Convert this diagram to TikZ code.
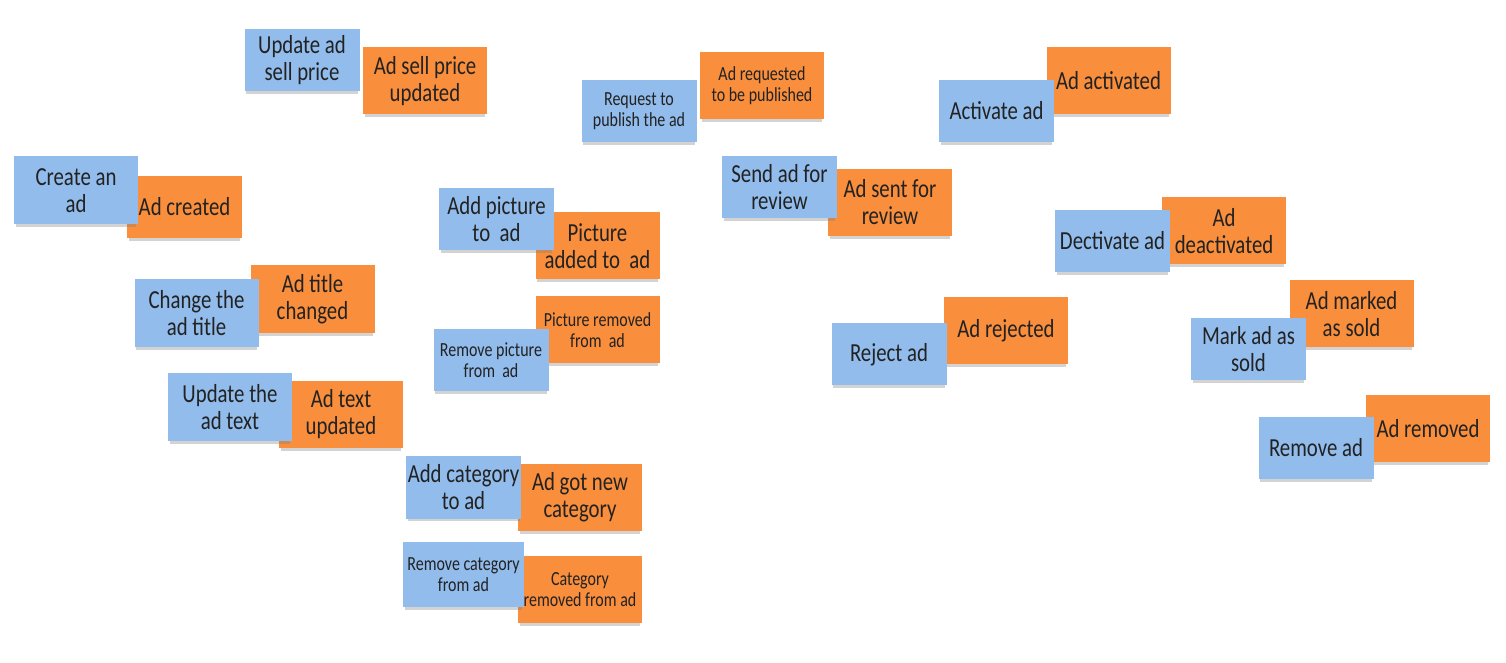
\documentclass[tikz,border=0pt]{standalone}
\usepackage{fontspec}
\setmainfont[FakeStretch=0.8]{Carlito}
\usetikzlibrary{shadows,positioning}

\definecolor{cmdblue}{HTML}{92BCEC}
\definecolor{evtorange}{HTML}{F98E3C}
\definecolor{inkgray}{HTML}{222222}

\tikzset{
    note/.style={rectangle, inner sep=1pt, align=center, text=inkgray,
        font=\fontsize{13}{13.5}\selectfont,
        drop shadow={shadow xshift=0pt, shadow yshift=-2pt, shadow scale=0.97, opacity=0.35}},
    cmd/.style={note, fill=cmdblue, minimum width=57.5pt, minimum height=31pt},
    evt/.style={note, fill=evtorange, minimum width=62pt, minimum height=33.5pt},
    bignote/.style={minimum width=62pt, minimum height=34pt},
    smalltext/.style={font=\fontsize{10}{10.5}\selectfont}
}

\begin{document}
\begin{tikzpicture}[x=0.5pt, y=-0.5pt]
    \useasboundingbox (0,0) rectangle (1506,663);

    \node (sellpriceupd) [evt] at (425,81) {Ad sell price\\ updated};
    \node (sellprice) [cmd] at (302,60) {Update ad\\ sell price};

    \node (created) [evt, minimum width=57.5pt, minimum height=31pt] at (184.5,207) {Ad created};
    \node (create) [cmd, bignote] at (76,190.5) {Create an\\ ad};

    \node (titlechg) [evt, bignote] at (312.5,299) {Ad title\\ changed};
    \node (title) [cmd, bignote] at (196.5,313) {Change the\\ ad title};

    \node (textupd) [evt] at (341,414.5) {Ad text\\ updated};
    \node (text) [cmd, bignote] at (230,407) {Update the\\ ad text};

    \node (picadded) [evt] at (597.5,246) {Picture\\ added to\ \ ad};
    \node (addpic) [cmd] at (496.5,219) {Add picture\\ to\ \ ad};

    \node (picrm) [evt, smalltext] at (597.5,330) {Picture removed\\ from\ \ ad};
    \node (rmpic) [cmd, smalltext] at (491,360.5) {Remove picture\\ from\ \ ad};

    \node (newcat) [evt] at (580,497.5) {Ad got new\\ category};
    \node (addcat) [cmd] at (463.5,487.5) {Add category\\ to ad};

    \node (catrm) [evt, smalltext] at (580,589.5) {Category\\ removed from ad};
    \node (rmcat) [cmd, smalltext, minimum width=60.5pt, minimum height=32.5pt] at (463.5,574.5) {Remove category\\ from ad};

    \node (requested) [evt, smalltext] at (762,85.5) {Ad requested\\ to be published};
    \node (request) [cmd, smalltext] at (639,111) {Request to\\ publish the ad};

    \node (sent) [evt] at (890,202.5) {Ad sent for\\ review};
    \node (send) [cmd] at (779.5,187.5) {Send ad for\\ review};

    \node (rejected) [evt] at (1006,331) {Ad rejected};
    \node (reject) [cmd] at (889,354.5) {Reject ad};

    \node (activated) [evt] at (1108.5,81) {Ad activated};
    \node (activate) [cmd] at (996.5,111) {Activate ad};

    \node (deactivated) [evt] at (1224,231) {Ad\\ deactivated};
    \node (deactivate) [cmd] at (1112.5,241) {Dectivate ad};

    \node (sold) [evt] at (1351.5,314) {Ad marked\\ as sold};
    \node (marksold) [cmd] at (1248.5,349) {Mark ad as\\ sold};

    \node (removed) [evt] at (1428,428.5) {Ad removed};
    \node (remove) [cmd] at (1316,448) {Remove ad};

\end{tikzpicture}
\end{document}
